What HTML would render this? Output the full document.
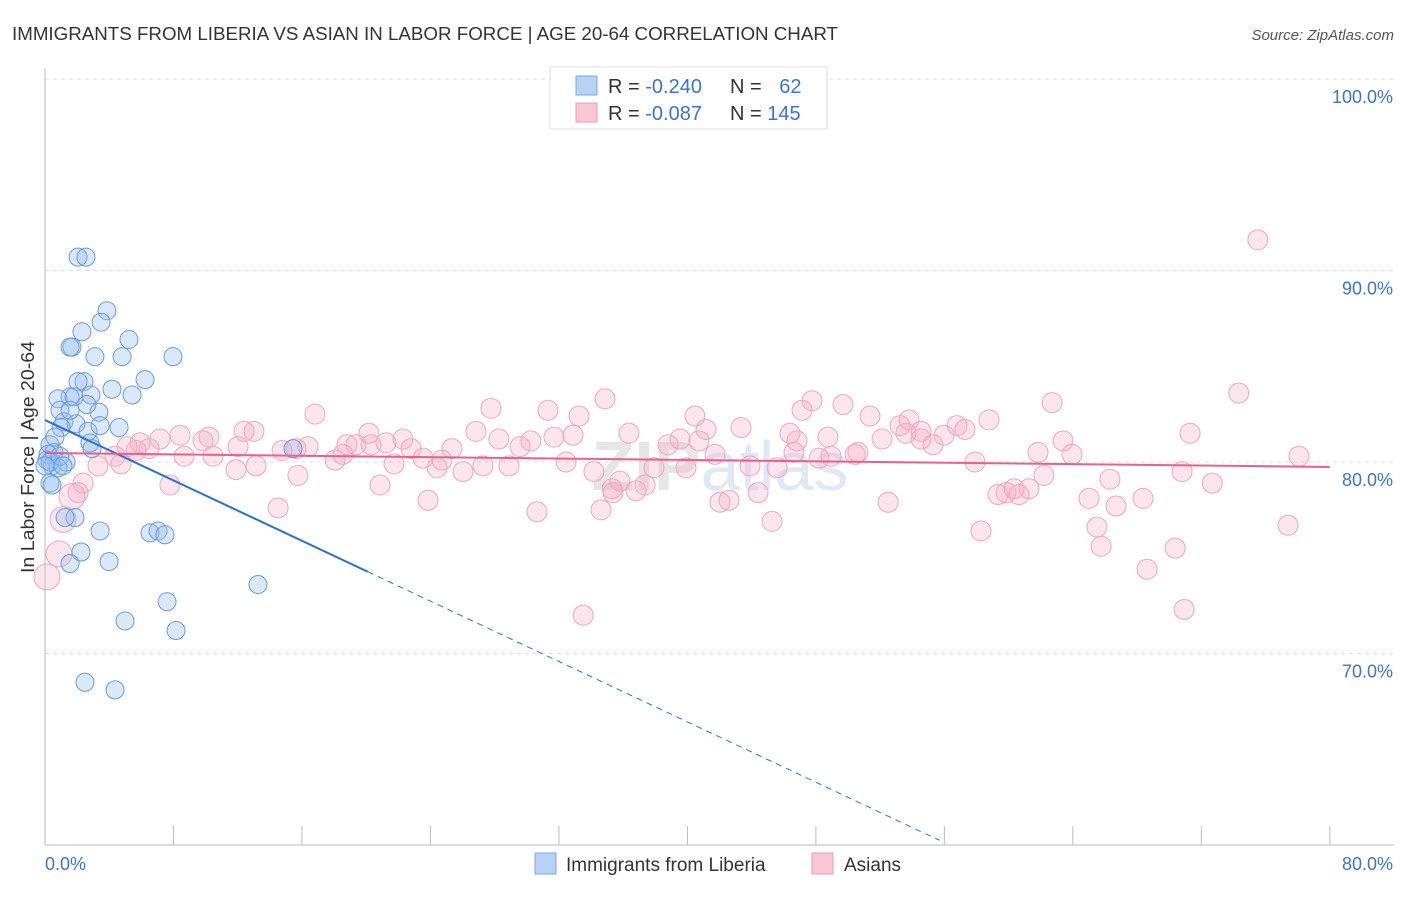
<!DOCTYPE html>
<html><head><meta charset="utf-8"><style>
body{margin:0;background:#fff;font-family:"Liberation Sans",sans-serif}
svg text{font-family:"Liberation Sans",sans-serif}
</style></head><body>
<svg width="1406" height="892" id="c">
<text x="12" y="40" font-size="18" fill="#333" textLength="826" lengthAdjust="spacingAndGlyphs">IMMIGRANTS FROM LIBERIA VS ASIAN IN LABOR FORCE | AGE 20-64 CORRELATION CHART</text>
<text x="1394" y="40" font-size="15" fill="#555" font-style="italic" text-anchor="end">Source: ZipAtlas.com</text>
<text x="720" y="490" font-size="70" fill="#e6e6e6" text-anchor="middle" font-weight="bold">ZIP<tspan fill="#dfe8f5" font-weight="normal">atlas</tspan></text>
<g id="grid"></g>
<g id="pts"></g>
<g id="lines"></g>
<text transform="translate(34,457) rotate(-90)" font-size="18" fill="#333" text-anchor="middle" textLength="232" lengthAdjust="spacingAndGlyphs">In Labor Force | Age 20-64</text>
<g>
<rect x="550" y="67" width="277" height="62" fill="#fff" stroke="#ddd"/>
<rect x="576" y="76" width="21" height="19" fill="#b8d2f5" stroke="#7aa8e8"/>
<rect x="576" y="103" width="21" height="19" fill="#f9c6d5" stroke="#ee9ab5"/>
<text x="608" y="93" font-size="20" fill="#333">R = <tspan fill="#3a73d4">-0.240</tspan></text>
<text x="730" y="93" font-size="20" fill="#333">N = <tspan fill="#3a73d4" dx="12">62</tspan></text>
<text x="608" y="120" font-size="20" fill="#333">R = <tspan fill="#3a73d4">-0.087</tspan></text>
<text x="730" y="120" font-size="20" fill="#333">N = <tspan fill="#3a73d4">145</tspan></text>
</g>
<g>
<rect x="535" y="853" width="21" height="21" fill="#b8d2f5" stroke="#7aa8e8"/>
<text x="566" y="871" font-size="19" fill="#333">Immigrants from Liberia</text>
<rect x="812" y="853" width="21" height="21" fill="#f9c6d5" stroke="#ee9ab5"/>
<text x="844" y="871" font-size="19" fill="#333">Asians</text>
</g>
</svg>
<script>
const yTicks=[100,90,80,70];
const yTickLabels=["100.0%","90.0%","80.0%","70.0%"];
const xTicks=[0,8,16,24,32,40,48,56,64,72,80];
const blueX=[2.06,2.55,3.86,3.49,1.68,1.56,2.3,3.11,4.8,5.23,7.97,6.23,2.43,2.06,4.17,5.42,1.56,0.81,1.81,2.86,0.93,3.36,2.61,1.18,1.93,4.61,1.0,2.68,3.43,2.8,0.31,2.93,15.44,0.19,0.56,0.12,1.31,0.44,0.81,0.31,0.44,1.87,1.25,3.43,6.54,7.04,7.47,2.24,1.56,3.99,13.26,7.6,4.98,8.16,2.49,4.36,0.31,0.62,0.93,0.0,1.12,1.56];
const blueY=[90.7,90.7,87.9,87.3,86.0,86.0,86.8,85.5,85.5,86.4,85.5,84.3,84.2,84.2,83.8,83.5,83.4,83.3,83.4,83.5,82.7,82.6,83.0,82.1,82.0,81.8,81.8,81.6,81.9,81.0,80.9,80.7,80.7,80.4,80.5,80.1,80.0,79.8,79.7,78.9,78.8,77.1,77.1,76.4,76.3,76.4,76.2,75.3,74.7,74.8,73.6,72.7,71.7,71.2,68.5,68.1,80.0,81.3,80.3,79.8,79.8,82.7];
const pinkX=[75.52,74.33,62.71,34.87,27.77,31.32,33.25,16.81,47.76,49.69,47.14,51.37,53.8,58.78,56.79,54.55,48.75,52.12,53.61,36.36,32.88,31.69,30.25,28.26,26.83,20.17,21.23,22.29,22.79,25.34,23.54,24.41,24.72,20.3,19.36,18.8,18.55,18.06,16.38,15.63,14.76,13.01,12.39,12.02,10.21,10.46,8.66,9.84,8.41,7.16,5.92,6.48,5.67,5.11,4.36,4.73,3.3,2.37,2.06,1.68,1.12,0.87,0.12,7.78,11.89,13.14,15.75,14.51,20.86,21.73,23.85,26.03,27.27,28.89,29.58,30.63,32.44,34.18,35.37,35.8,36.8,37.36,37.92,38.79,39.54,39.91,40.72,41.16,41.72,42.03,42.59,43.34,44.4,45.59,45.27,46.64,46.82,48.2,48.94,50.44,50.62,52.5,53.24,54.55,55.98,55.29,57.28,57.91,58.28,59.34,59.84,60.34,60.65,61.27,61.83,62.2,63.39,63.95,65.01,65.5,65.76,66.31,66.69,68.37,68.62,70.37,70.93,71.3,70.8,72.68,77.4,78.08,34.62,35.31,33.51,40.47,43.9,46.39];
const pinkY=[91.6,83.6,83.1,83.3,82.8,82.7,82.4,82.5,83.2,83.0,82.7,82.4,82.2,82.2,81.9,81.6,81.3,81.2,81.5,81.5,81.4,81.3,81.1,81.2,81.6,81.5,81.0,81.2,80.7,80.7,80.2,79.7,80.1,80.9,80.9,80.9,80.4,80.1,80.8,80.7,80.6,81.6,81.6,80.8,81.3,80.3,80.3,81.1,81.4,81.2,81.0,80.7,80.6,80.8,80.3,79.9,79.8,78.9,78.4,78.2,77.0,75.2,74.0,78.8,79.6,79.8,79.3,77.6,78.8,79.9,78.0,79.5,79.8,79.8,80.8,77.4,80.0,79.5,78.4,79.0,78.5,78.8,79.7,80.9,81.2,79.7,81.1,81.7,80.4,77.9,78.0,81.8,78.4,79.7,76.9,80.5,81.1,80.2,80.3,80.4,80.5,77.9,81.9,81.2,81.4,80.9,81.7,80.0,76.4,78.3,78.4,78.6,78.3,78.6,80.5,79.3,81.1,80.4,78.1,76.6,75.6,79.1,77.7,78.1,74.4,75.5,72.3,81.5,79.5,78.9,76.7,80.3,77.5,78.6,72.0,82.4,79.8,81.5,79.8,79.8,79.8];
const blueTrend=[82.19,-0.394], pinkTrend=[80.47,-0.0091];
const X=v=>45+v*16.06, Y=v=>79+(100-v)*19.15;
const NS="http://www.w3.org/2000/svg";
function mk(t,a,p){const e=document.createElementNS(NS,t);for(const k in a)e.setAttribute(k,a[k]);p.appendChild(e);return e;}
const g=document.getElementById('grid');
yTicks.forEach((t,i)=>{
 const l=mk('line',{x1:45,x2:1394,y1:Y(t),y2:Y(t),stroke:'#ddd','stroke-dasharray':'4,4'},g);
 
 
 const tx=mk('text',{x:1393,y:Y(t)+24,'font-size':18,fill:'#3a73d4','text-anchor':'end'},g);
 tx.textContent=yTickLabels[i];
 
 
});
const ax=mk('line',{x1:45,x2:45,y1:68,y2:845,stroke:'#bbb'},g);


const bx=mk('line',{x1:45,x2:1394,y1:845,y2:845,stroke:'#bbb'},g);


xTicks.forEach(t=>{const l=mk('line',{x1:X(t),x2:X(t),y1:826,y2:845,stroke:'#bbb'},g);
 
 });
const x0=mk('text',{x:45,y:870,'font-size':18,fill:'#3a73d4'},g);x0.textContent='0.0%';


const x1=mk('text',{x:1393,y:870,'font-size':18,fill:'#3a73d4','text-anchor':'end'},g);x1.textContent='80.0%';


const pg=document.getElementById('pts');
pinkX.forEach((v,i)=>{const c=mk('circle',{cx:X(v),cy:Y(pinkY[i]),r:(v<2?13:10),fill:'rgba(246,170,195,0.3)',stroke:'#efa6bd','stroke-width':1},pg);
 
 });
blueX.forEach((v,i)=>{const c=mk('circle',{cx:X(v),cy:Y(blueY[i]),r:9,fill:'rgba(150,190,240,0.35)',stroke:'#6a9ae2','stroke-width':1},pg);
 
 });
const lg=document.getElementById('lines');
const by=x=>blueTrend[0]+blueTrend[1]*x, py=x=>pinkTrend[0]+pinkTrend[1]*x;
const l1=mk('line',{x1:X(0),y1:Y(by(0)),x2:X(20.1),y2:Y(by(20.1)),stroke:'#2a6fd8','stroke-width':2},lg);


const l2=mk('line',{x1:X(20.1),y1:Y(by(20.1)),x2:X(55.7),y2:Y(by(55.7)),stroke:'#2a6fd8','stroke-width':1,'stroke-dasharray':'6,5'},lg);


const l3=mk('line',{x1:X(0),y1:Y(py(0)),x2:X(80),y2:Y(py(80)),stroke:'#e8608c','stroke-width':2},lg);


</script>
</body></html>
